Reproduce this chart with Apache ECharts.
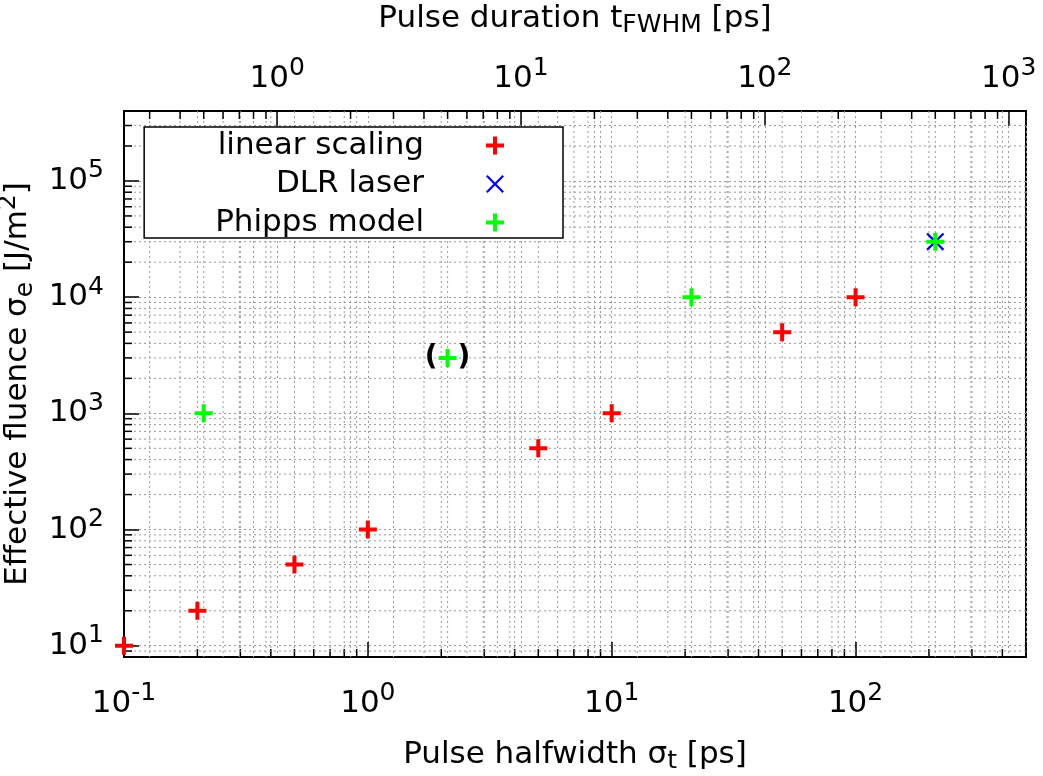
<!DOCTYPE html>
<html><head><meta charset="utf-8">
<script src="https://cdn.jsdelivr.net/npm/echarts@6/dist/echarts.min.js"></script>
<style>html,body{margin:0;padding:0;background:#fff}#c{width:1043px;height:776px}</style>
</head><body><div id="c"></div>
<script>
// ---- data ----
const FWHM_FACTOR = 2.3548;            // t_FWHM = 2*sqrt(2 ln2) * sigma_t
const xRange = [0.1, 500];             // sigma_t [ps]
const yRange = [8, 4e5];               // effective fluence [J/m^2]
const seriesNames = ['linear scaling', 'DLR laser', 'Phipps model'];
const linearX = [0.1, 0.2, 0.5, 1, 5, 10, 50, 100];
const linearY = [10, 20, 50, 100, 500, 1000, 5000, 10000];
const dlrX = [212.3];
const dlrY = [30000];
const phippsX = [0.2123, 2.123, 21.23, 212.3];
const phippsY = [1000, 3000, 10000, 30000];
const bracketedIndex = 1;              // Phipps point shown as "( + )"
const xMinorTicks = [0.2,0.3,0.4,0.5,0.6,0.7,0.8,0.9, 2,3,4,5,6,7,8,9, 20,30,40,50,60,70,80,90, 200,300,400];
const x2MinorTicks = [0.3,0.4,0.5,0.6,0.7,0.8,0.9, 2,3,4,5,6,7,8,9, 20,30,40,50,60,70,80,90, 200,300,400,500,600,700,800,900];
const yMinorTicks = [9, 20,30,40,50,60,70,80,90, 200,300,400,500,600,700,800,900,
  2000,3000,4000,5000,6000,7000,8000,9000, 20000,30000,40000,50000,60000,70000,80000,90000, 200000,300000];

// ---- style ----
const FONT = 'DejaVu Sans';
const GRID = '#9a9a9a';
const PLUS = 'path://M7,0 H11 V7 H18 V11 H11 V18 H7 V11 H0 V7 H7 Z';
const CROSS = 'path://M0,1.6 L1.6,0 L9,7.4 L16.4,0 L18,1.6 L10.6,9 L18,16.4 L16.4,18 L9,10.6 L1.6,18 L0,16.4 L7.4,9 Z';

const labelRich = {
  b: {fontSize: 31, fontFamily: FONT, color: '#000', verticalAlign: 'middle', lineHeight: 36},
  s: {fontSize: 25, fontFamily: FONT, color: '#000', verticalAlign: 'middle', padding: [0, 0, 20, 0]}
};
const nameRich = {
  a: {fontSize: 31, fontFamily: FONT, color: '#000', verticalAlign: 'middle', lineHeight: 36},
  sub: {fontSize: 25, fontFamily: FONT, color: '#000', verticalAlign: 'middle', padding: [14, 0, 0, 0]},
  sup: {fontSize: 25, fontFamily: FONT, color: '#000', verticalAlign: 'middle', padding: [0, 0, 20, 0]}
};
function powLabel(v) {
  const e = Math.log10(v), r = Math.round(e);
  if (Math.abs(e - r) > 1e-6) return '';
  return '{b|10}{s|' + r + '}';
}
const tickStyle = {inside: true, length: 15, lineStyle: {color: '#000', width: 1.5}};
const splitStyle = {show: true, lineStyle: {color: GRID, width: 1, type: [2, 3]}};
const lineStyle = {show: true, lineStyle: {color: '#000', width: 2}};

function vMinor(side) {
  return function (params, api) {
    const x = api.coord([api.value(0), api.value(1)])[0];
    const cs = params.coordSys;
    const top = cs.y, bot = cs.y + cs.height;
    return {type: 'group', children: [
      {type: 'line', shape: {x1: x, y1: top, x2: x, y2: bot}, style: {stroke: GRID, lineWidth: 1, lineDash: [2, 3]}},
      side === 'bottom'
        ? {type: 'line', shape: {x1: x, y1: bot, x2: x, y2: bot - 8}, style: {stroke: '#000', lineWidth: 1.5}}
        : {type: 'line', shape: {x1: x, y1: top, x2: x, y2: top + 8}, style: {stroke: '#000', lineWidth: 1.5}}
    ]};
  };
}
function hMinor(params, api) {
  const y = api.coord([api.value(0), api.value(1)])[1];
  const cs = params.coordSys;
  return {type: 'group', children: [
    {type: 'line', shape: {x1: cs.x, y1: y, x2: cs.x + cs.width, y2: y}, style: {stroke: GRID, lineWidth: 1, lineDash: [2, 3]}},
    {type: 'line', shape: {x1: cs.x, y1: y, x2: cs.x + 8, y2: y}, style: {stroke: '#000', lineWidth: 1.5}}
  ]};
}

const chart = echarts.init(document.getElementById('c'), null, {renderer: 'canvas'});
chart.setOption({
  animation: false,
  backgroundColor: '#fff',
  grid: {left: 124, right: 17, top: 111, bottom: 119, containLabel: false, outerBoundsMode: 'none',
         show: true, borderColor: '#000', borderWidth: 2, backgroundColor: 'transparent'},
  xAxis: [
    {type: 'log', logBase: 10, min: xRange[0], max: xRange[1], position: 'bottom',
     axisLine: lineStyle, axisTick: tickStyle, splitLine: splitStyle,
     axisLabel: {formatter: powLabel, rich: labelRich, margin: 24},
     name: '{a|Pulse halfwidth σ}{sub|t}{a| [ps]}', nameLocation: 'middle', nameGap: 78,
     nameTextStyle: {rich: nameRich}},
    {type: 'log', logBase: 10, min: xRange[0] * FWHM_FACTOR, max: xRange[1] * FWHM_FACTOR, position: 'top',
     axisLine: lineStyle, axisTick: tickStyle, splitLine: splitStyle,
     axisLabel: {formatter: powLabel, rich: labelRich, margin: 10},
     name: '{a|Pulse duration t}{sub|FWHM}{a| [ps]}', nameLocation: 'middle', nameGap: 73,
     nameTextStyle: {rich: nameRich}}
  ],
  yAxis: [
    {type: 'log', logBase: 10, min: yRange[0], max: yRange[1], position: 'left',
     axisLine: lineStyle, axisTick: tickStyle, splitLine: splitStyle,
     axisLabel: {formatter: powLabel, rich: labelRich, margin: 20},
     name: '{a|Effective fluence σ}{sub|e}{a| [J/m}{sup|2}{a|]}', nameLocation: 'middle', nameRotate: 90, nameGap: 78,
     nameTextStyle: {rich: nameRich}}
  ],
  legend: {
    orient: 'vertical', align: 'right', right: 480, top: 127,
    itemWidth: 132, itemHeight: 18, itemGap: 7.5, padding: [3, 59, 0, 71],
    backgroundColor: '#fff', borderColor: '#000', borderWidth: 1.5, borderRadius: 0,
    textStyle: {fontSize: 31, fontFamily: FONT, color: '#000', lineHeight: 31},
    selectedMode: false, symbolKeepAspect: true,
    itemStyle: {opacity: 1},
    data: [
      {name: seriesNames[0], icon: PLUS},
      {name: seriesNames[1], icon: CROSS},
      {name: seriesNames[2], icon: PLUS}
    ]
  },
  series: [
    {type: 'custom', name: 'xMinor', xAxisIndex: 0, yAxisIndex: 0, silent: true, z: 1,
     data: xMinorTicks.map(v => [v, yRange[0]]), renderItem: vMinor('bottom')},
    {type: 'custom', name: 'x2Minor', xAxisIndex: 1, yAxisIndex: 0, silent: true, z: 1,
     data: x2MinorTicks.map(v => [v, yRange[0]]), renderItem: vMinor('top')},
    {type: 'custom', name: 'yMinor', xAxisIndex: 0, yAxisIndex: 0, silent: true, z: 1,
     data: yMinorTicks.map(v => [xRange[0], v]), renderItem: hMinor},
    {type: 'scatter', name: seriesNames[0], xAxisIndex: 0, yAxisIndex: 0, clip: false, z: 5,
     symbol: PLUS, symbolSize: 18, itemStyle: {color: '#ff0000', opacity: 1},
     data: linearX.map((x, i) => [x, linearY[i]])},
    {type: 'scatter', name: seriesNames[1], xAxisIndex: 0, yAxisIndex: 0, clip: false, z: 5,
     symbol: CROSS, symbolSize: 18, itemStyle: {color: '#0000ff', opacity: 1},
     data: dlrX.map((x, i) => [x, dlrY[i]])},
    {type: 'scatter', name: seriesNames[2], xAxisIndex: 0, yAxisIndex: 0, clip: false, z: 6,
     symbol: PLUS, symbolSize: 18, itemStyle: {color: '#00ff00', opacity: 1},
     data: phippsX.map((x, i) => i === bracketedIndex ? {
       value: [x, phippsY[i]],
       label: {show: true, position: 'inside', formatter: '{p|(}{g| }{p|)}',
         rich: {p: {fontSize: 28, fontWeight: 'bold', fontFamily: FONT, color: '#000', opacity: 1},
                g: {width: 20, fontSize: 28}}}
     } : [x, phippsY[i]])}
  ]
});
</script></body></html>
